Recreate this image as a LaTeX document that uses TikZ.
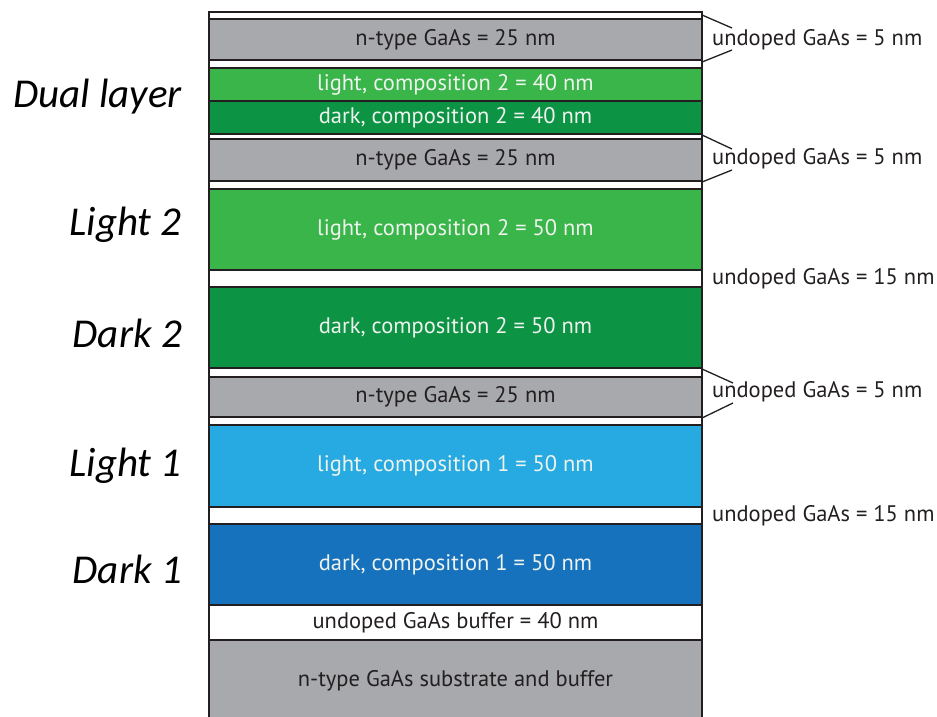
\documentclass[tikz,border=0pt]{standalone}
\usepackage{fontspec}
\setmainfont{PT Sans}
\newfontfamily\sidefont{Carlito}
\definecolor{gaasgrey}{HTML}{A7A9AC}
\definecolor{lightgreen}{HTML}{39B54A}
\definecolor{darkgreen}{HTML}{0D9344}
\definecolor{lightblue}{HTML}{27AAE1}
\definecolor{darkblue}{HTML}{1772BD}
\definecolor{edge}{HTML}{231F20}
\definecolor{paletext}{HTML}{EEF3EE}
\tikzset{
  layer/.style={draw=edge, line width=1.6pt, minimum width=493pt, inner sep=0pt, outer sep=0pt,
    font=\fontsize{22.5}{24}\selectfont},
  sidelabel/.style={anchor=base east, inner sep=0pt, font=\sidefont\itshape\fontsize{41}{45}\selectfont},
  thinlabel/.style={anchor=west, text=edge, inner sep=0pt, font=\fontsize{22.5}{24}\selectfont},
  bracket/.style={draw=edge, line width=1.3pt}
}
\begin{document}
\begin{tikzpicture}[x=1pt, y=-1pt]
    \useasboundingbox (0,0) rectangle (937,717);
    % Layer stack, top to bottom
    \foreach \i/\ytop/\ybot/\col/\ink/\txt in {
        1/12/19/white/edge/{},
        2/19/60/gaasgrey/edge/{n-type GaAs = 25 nm},
        3/60/68/white/edge/{},
        4/68/101/lightgreen/paletext/{light, composition 2 = 40 nm},
        5/101/134/darkgreen/paletext/{dark, composition 2 = 40 nm},
        6/134/139/white/edge/{},
        7/139/181/gaasgrey/edge/{n-type GaAs = 25 nm},
        8/181/189/white/edge/{},
        9/189/270/lightgreen/paletext/{light, composition 2 = 50 nm},
        10/270/287/white/edge/{},
        11/287/368/darkgreen/paletext/{dark, composition 2 = 50 nm},
        12/368/377/white/edge/{},
        13/377/417/gaasgrey/edge/{n-type GaAs = 25 nm},
        14/417/425/white/edge/{},
        15/425/507/lightblue/paletext/{light, composition 1 = 50 nm},
        16/507/524/white/edge/{},
        17/524/605/darkblue/paletext/{dark, composition 1 = 50 nm},
        18/605/640/white/edge/{undoped GaAs buffer = 40 nm},
        19/640/722/gaasgrey/edge/{n-type GaAs substrate and buffer}}
        \node[layer, fill=\col, text=\ink, minimum height={(\ybot-\ytop)*1pt}]
            (L\i) at (455.5,{(\ytop+\ybot)/2}) {\txt};

    % Sample names
    \node[sidelabel] (dual) at (182,107) {Dual layer};
    \node[sidelabel] (light2) at (182,235) {Light 2};
    \node[sidelabel] (dark2) at (182,347) {Dark 2};
    \node[sidelabel] (light1) at (182,476) {Light 1};
    \node[sidelabel] (dark1) at (182,583) {Dark 1};

    % Spacer labels
    \node[thinlabel] (sp1) at (712,40) {undoped GaAs = 5 nm};
    \node[thinlabel] (sp2) at (712,159) {undoped GaAs = 5 nm};
    \node[thinlabel] (sp3) at (712,279) {undoped GaAs = 15 nm};
    \node[thinlabel] (sp4) at (712,392) {undoped GaAs = 5 nm};
    \node[thinlabel] (sp5) at (712,516) {undoped GaAs = 15 nm};

    % Brackets
    \coordinate (b1a) at (732,28);
    \coordinate (b1b) at (732,50);
    \coordinate (b2a) at (732,149);
    \coordinate (b2b) at (732,170);
    \coordinate (b4a) at (733,383);
    \coordinate (b4b) at (733,403);
    \draw[bracket] ([yshift=-3pt]L1.north east) -- (b1a);
    \draw[bracket] ([yshift=-2pt]L3.north east) -- (b1b);
    \draw[bracket] ([yshift=-1pt]L6.north east) -- (b2a);
    \draw[bracket] ([yshift=-1pt]L8.north east) -- (b2b);
    \draw[bracket] ([yshift=-1pt]L12.north east) -- (b4a);
    \draw[bracket] ([yshift=-1pt]L14.north east) -- (b4b);
\end{tikzpicture}
\end{document}
